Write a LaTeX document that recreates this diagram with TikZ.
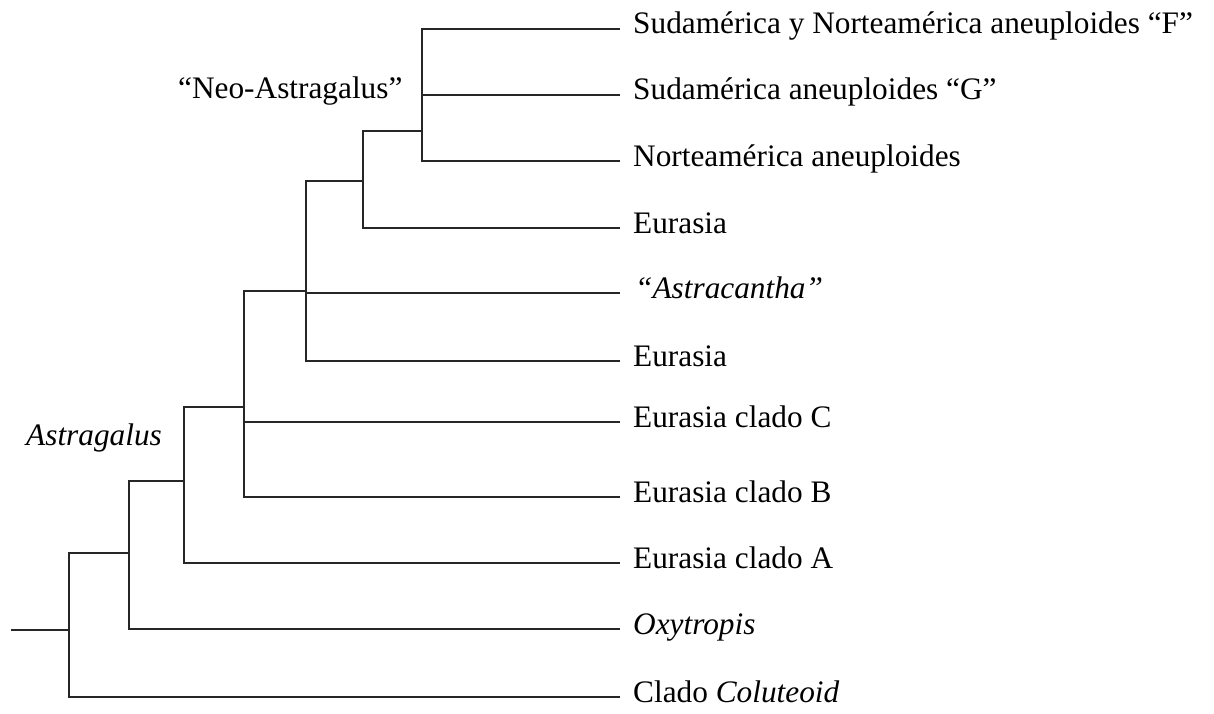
\documentclass[tikz,border=0pt]{standalone}
\usepackage{fontspec}
\setmainfont{Liberation Serif}
\usepackage{tikz}

\tikzset{
  branch/.style={line width=1.7pt, black!85},
  taxon/.style={anchor=base west, inner sep=0pt, font=\fontsize{31.3}{36}\selectfont},
}

\begin{document}
\begin{tikzpicture}[x=1pt,y=-1pt]
\useasboundingbox (0,0) rectangle (1214,713);

% tips of the branches
\foreach \t/\y in {F/29,G/95,Nor/161,EuA/228,Ast/293,EuB/361,C/422,B/497,A/563,Oxy/629,Col/697}
  \coordinate (t\t) at (620,\y);

% inner nodes
\coordinate (r0) at (11,630);
\coordinate (n1) at (69,630);
\coordinate (n2) at (129,553);
\coordinate (n3) at (184,481);
\coordinate (n4) at (244,407);
\coordinate (n5) at (306,291);
\coordinate (n6) at (363,181);
\coordinate (n7) at (422,131);

% tree
\draw[branch] (r0) -- (n1);
\draw[branch] (n1) |- (n2);
\draw[branch] (n1) |- (tCol);
\draw[branch] (n2) |- (n3);
\draw[branch] (n2) |- (tOxy);
\draw[branch] (n3) |- (n4);
\draw[branch] (n3) |- (tA);
\draw[branch] (n4) |- (n5);
\draw[branch] (n4 |- tC) -- (tC);
\draw[branch] (n4) |- (tB);
\draw[branch] (n5) |- (n6);
\draw[branch] (n5 |- tAst) -- (tAst);
\draw[branch] (n5) |- (tEuB);
\draw[branch] (n6) |- (n7);
\draw[branch] (n6) |- (tEuA);
\draw[branch] (n7) |- (tF);
\draw[branch] (n7 |- tG) -- (tG);
\draw[branch] (n7) |- (tNor);

% taxa
\node[taxon] (lF)   at ([xshift=13pt,yshift=-4pt]tF)   {Sudamérica y Norteamérica aneuploides “F”};
\node[taxon] (lG)   at ([xshift=13pt,yshift=-4pt]tG)   {Sudamérica aneuploides “G”};
\node[taxon] (lNor) at ([xshift=13pt,yshift=-5pt]tNor) {Norteamérica aneuploides};
\node[taxon] (lEuA) at ([xshift=13pt,yshift=-5pt]tEuA) {Eurasia};
\node[taxon] (lAst) at ([xshift=15pt,yshift=-5pt]tAst) {\itshape “Astracantha”};
\node[taxon] (lEuB) at ([xshift=13pt,yshift=-5pt]tEuB) {Eurasia};
\node[taxon] (lC)   at ([xshift=13pt,yshift=-5pt]tC)   {Eurasia clado C};
\node[taxon] (lB)   at ([xshift=13pt,yshift=-5pt]tB)   {Eurasia clado B};
\node[taxon] (lA)   at ([xshift=13pt,yshift=-5pt]tA)   {Eurasia clado A};
\node[taxon] (lOxy) at ([xshift=13pt,yshift=-5pt]tOxy) {\itshape Oxytropis};
\node[taxon] (lCol) at ([xshift=13pt,yshift=-5pt]tCol) {Clado \textit{Coluteoid}};

% clade names
\node[taxon] (neo)  at (178,98)  {“Neo-Astragalus”};
\node[taxon] (astr) at (26,445)  {\itshape Astragalus};
\end{tikzpicture}
\end{document}
